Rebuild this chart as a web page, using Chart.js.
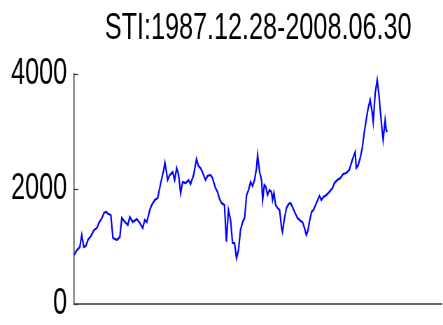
<!DOCTYPE html>
<html>
<head>
<meta charset="utf-8">
<script src="https://cdn.jsdelivr.net/npm/chart.js@4/dist/chart.umd.min.js"></script>
<style>
  html, body { margin: 0; padding: 0; background: #fff; overflow: hidden; width: 443px; height: 325px; }
  /* the chart is laid out on a wider canvas and squeezed horizontally */
  #wrap { position: absolute; left: 0; top: 0; width: 633px; height: 332px; transform: scaleX(0.69984); transform-origin: 0 0; }
  canvas { display: block; }
</style>
</head>
<body>
<div id="wrap"><canvas id="c"></canvas></div>
<script>
// Straits Times Index, decimal year vs index level
const t = [
  1987.99, 1988.18, 1988.37, 1988.50, 1988.63, 1988.77, 1988.90, 1989.10, 1989.30, 1989.49,
  1989.62, 1989.82, 1989.95, 1990.10, 1990.21, 1990.40, 1990.54, 1990.80, 1990.99, 1991.12,
  1991.32, 1991.51, 1991.64, 1991.84, 1992.10, 1992.30, 1992.49, 1992.62, 1992.76, 1992.95,
  1993.08, 1993.28, 1993.47, 1993.67, 1993.86, 1993.94, 1994.04, 1994.12, 1994.26, 1994.45,
  1994.58, 1994.71, 1994.84, 1994.97, 1995.10, 1995.30, 1995.49, 1995.62, 1995.82, 1996.01,
  1996.14, 1996.27, 1996.40, 1996.60, 1996.73, 1996.93, 1997.06, 1997.25, 1997.39, 1997.52,
  1997.65, 1997.84, 1997.97, 1998.10, 1998.24, 1998.37, 1998.50, 1998.63, 1998.76, 1998.89,
  1999.03, 1999.16, 1999.29, 1999.42, 1999.55, 1999.68, 1999.81, 1999.94, 2000.01, 2000.14,
  2000.27, 2000.34, 2000.45, 2000.55, 2000.66, 2000.79, 2000.92, 2000.99, 2001.08, 2001.19,
  2001.32, 2001.45, 2001.58, 2001.64, 2001.75, 2001.90, 2002.04, 2002.17, 2002.30, 2002.49,
  2002.62, 2002.82, 2002.95, 2003.08, 2003.20, 2003.30, 2003.40, 2003.54, 2003.67, 2003.86,
  2004.06, 2004.19, 2004.32, 2004.52, 2004.71, 2004.91, 2005.04, 2005.23, 2005.43, 2005.62,
  2005.82, 2006.01, 2006.21, 2006.40, 2006.47, 2006.60, 2006.73, 2006.86, 2006.99, 2007.12,
  2007.25, 2007.38, 2007.51, 2007.58, 2007.71, 2007.84, 2007.97, 2008.03, 2008.16, 2008.23,
  2008.36, 2008.43, 2008.50
];
const sti = [
   852,  939,  991, 1200,  991, 1010, 1113, 1183, 1287, 1322,
  1409, 1496, 1582, 1605, 1570, 1548, 1148, 1113, 1165, 1496,
  1426, 1374, 1513, 1426, 1478, 1409, 1322, 1461, 1426, 1635,
  1722, 1809, 1843, 2104, 2330, 2460, 2300, 2156, 2243, 2295,
  2156, 2365, 2243, 1925, 2122, 2104, 2156, 2087, 2243, 2522,
  2400, 2365, 2295, 2156, 2226, 2243, 2191, 2017, 1948, 1826,
  1756, 1722, 1083, 1635, 1461, 1061, 1061,  795,  939, 1287,
  1426, 1496, 1896, 1983, 2122, 2052, 2156, 2365, 2591, 2295,
  2156, 1809, 2069, 2035, 1896, 1983, 1948, 1809, 1930, 1722,
  1669, 1635, 1322, 1252, 1461, 1669, 1739, 1756, 1687, 1565,
  1496, 1444, 1426, 1322, 1200, 1270, 1426, 1600, 1635, 1756,
  1878, 1809, 1861, 1896, 1948, 2017, 2104, 2156, 2191, 2261,
  2278, 2330, 2504, 2643, 2365, 2417, 2539, 2713, 2974, 3200,
  3408, 3548, 3339, 3165, 3669, 3895, 3600, 3408, 3026, 2852,
  3200, 3026, 2991
];
const yTicks = [0, 2000, 4000];
const titleText = 'STI:1987.12.28-2008.06.30';

const SX = 0.69984;               // horizontal squeeze applied by CSS
const AXIS_LEFT = 74 / SX;        // y-axis position on the canvas
const FONT = "'Liberation Sans', Arial, Helvetica, sans-serif";

// short inward tick marks on the y axis
const tickMarks = {
  id: 'tickMarks',
  afterDraw(chart) {
    const y = chart.scales.y;
    const ctx = chart.ctx;
    ctx.save();
    ctx.strokeStyle = '#333';
    ctx.lineWidth = 1.2;
    yTicks.forEach(v => {
      const py = Math.round(y.getPixelForValue(v)) + 0.5;
      ctx.beginPath();
      ctx.moveTo(y.right, py);
      ctx.lineTo(y.right + 6, py);
      ctx.stroke();
    });
    ctx.restore();
  }
};

new Chart(document.getElementById('c'), {
  type: 'line',
  data: {
    datasets: [{
      data: t.map((x, i) => ({ x: x, y: sti[i] })),
      borderColor: '#0000ff',
      borderWidth: 2.2,
      pointRadius: 0,
      tension: 0,
      fill: false
    }]
  },
  options: {
    responsive: true,
    maintainAspectRatio: false,
    animation: false,
    events: [],
    layout: { padding: { top: 0, left: 0, right: 0, bottom: 3 } },
    plugins: {
      legend: { display: false },
      tooltip: { enabled: false },
      title: {
        display: true,
        text: titleText,
        fullSize: false,
        color: '#000',
        font: { family: FONT, size: 36, weight: 'normal', lineHeight: 1 },
        padding: { top: 11, bottom: 27 }
      }
    },
    scales: {
      x: {
        type: 'linear',
        min: 1987.99,
        max: 2012.1,
        ticks: { display: false },
        grid: { display: false, drawTicks: false },
        border: { display: true, color: '#666', width: 2 }
      },
      y: {
        min: 0,
        max: 4000,
        afterBuildTicks(scale) { scale.ticks = yTicks.map(v => ({ value: v })); },
        ticks: {
          padding: 10,
          color: '#000',
          font: { family: FONT, size: 36, lineHeight: 1 },
          callback: v => String(v)
        },
        grid: { display: false, drawTicks: false },
        border: { display: true, color: '#333', width: 1.5 },
        afterFit(scale) { scale.width = AXIS_LEFT; }
      }
    }
  },
  plugins: [tickMarks]
});
</script>
</body>
</html>
